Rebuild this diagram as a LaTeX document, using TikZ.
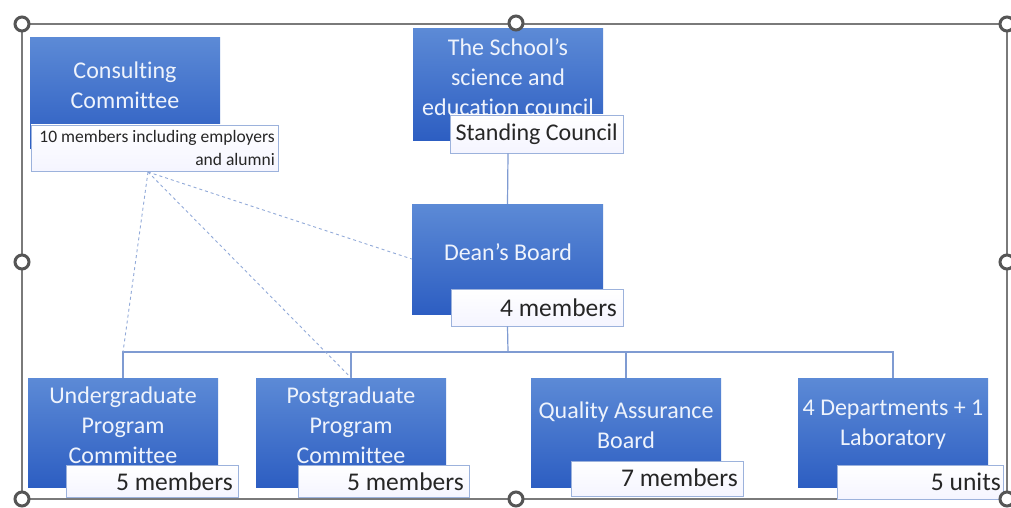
\documentclass[tikz,border=0pt]{standalone}
\usepackage{fontspec}
\setmainfont{Carlito}[Ligatures=NoCommon]
\usetikzlibrary{fit}
\definecolor{bluetop}{HTML}{5C8AD6}
\definecolor{bluebot}{HTML}{2D5EC2}
\definecolor{conn}{HTML}{7F9BD2}
\definecolor{lblborder}{HTML}{9CB2DC}
\definecolor{frame}{HTML}{7A7A7A}
\definecolor{handle}{HTML}{555555}
\definecolor{btext}{HTML}{EEF3FC}
\tikzset{
  bluebox/.style={inner sep=0pt, top color=bluetop, bottom color=bluebot, draw=none},
  bluetext/.style={text=btext, align=center, font=\fontsize{24}{30}\selectfont, inner sep=0pt},
  lblbox/.style={inner sep=0pt, top color=white, bottom color=blue!4, draw=lblborder, line width=0.9pt},
  lbltext/.style={text=black!85, font=\fontsize{24}{30}\selectfont, inner sep=0pt, anchor=east},
  smalltext/.style={text=black!85, align=right, font=\fontsize{17.5}{23}\selectfont, inner sep=0pt, anchor=east},
  conline/.style={draw=conn, line width=1.2pt},
  dashline/.style={draw=conn!85, line width=0.9pt, dash pattern=on 3pt off 3pt},
  framel/.style={draw=frame, line width=1.4pt},
  handlec/.style={circle, draw=handle, fill=white, line width=3pt, minimum size=14pt, inner sep=0pt},
}
\begin{document}
\begin{tikzpicture}[x=1pt,y=-1pt]
\useasboundingbox (0,0) rectangle (1011,508);
\fill[white] (0,0) rectangle (1011,508);
% selection frame
\draw[framel] (22,24) rectangle (1007,499);

% Consulting Committee
\node[bluebox, fit={(30,38) (220,148)}] (cc) {};
\node[bluetext] (cct) at (125,85) {Consulting\\Committee};
\node[lblbox, fit={(31,125) (278,171)}] (ccl) {};
\node[smalltext] (cclt) at (275,148) {10 members including employers\\and alumni};

% School council
\node[bluebox, fit={(413,29) (603,140)}] (sc) {};
\node[bluetext] (sct) at (508,77) {The School’s\\science and\\education council};
\node[lblbox, fit={(450,115) (623,153)}] (scl) {};
\node[lbltext] (sclt) at (618,134) {Standing Council};

% Dean's board
\node[bluebox, fit={(412,204) (603,314)}] (db) {};
\node[bluetext] (dbt) at (508,252) {Dean’s Board};
\node[lblbox, fit={(451,289) (623,326)}] (dbl) {};
\node[lbltext, font=\fontsize{25.5}{30}\selectfont] (dblt) at (617,308) {4 members};

% bottom row
\node[bluebox, fit={(28,378) (218,487)}] (ug) {};
\node[bluetext] (ugt) at (123,425) {Undergraduate\\Program\\Committee};
\node[lblbox, fit={(66,465) (238,497)}] (ugl) {};
\node[lbltext, font=\fontsize{25.5}{30}\selectfont] (uglt) at (233,482) {5 members};

\node[bluebox, fit={(256,378) (446,487)}] (pg) {};
\node[bluetext] (pgt) at (351,425) {Postgraduate\\Program\\Committee};
\node[lblbox, fit={(298,465) (469,497)}] (pgl) {};
\node[lbltext, font=\fontsize{25.5}{30}\selectfont] (pglt) at (464,482) {5 members};

\node[bluebox, fit={(531,378) (721,487)}] (qa) {};
\node[bluetext] (qat) at (626,425) {Quality Assurance\\Board};
\node[lblbox, fit={(571,461) (743,496)}] (qal) {};
\node[lbltext, font=\fontsize{25.5}{30}\selectfont] (qalt) at (738,478) {7 members};

\node[bluebox, fit={(798,378) (988,487)}] (dp) {};
\node[bluetext] (dpt) at (893,425) {4 Departments + 1\\Laboratory};
\node[lblbox, fit={(837,465) (1003,499)}] (dpl) {};
\node[lbltext, font=\fontsize{25.5}{30}\selectfont] (dplt) at (1001,482) {5 units};

% connectors
\coordinate (bar) at (508,352);
\draw[conline] (scl.south -| sc.south) -- (db.north);
\draw[conline] (dbl.south -| db.south) -- (bar);
\draw[conline] (ug.north) -- (ug.north |- bar) -- (dp.north |- bar) -- (dp.north);
\draw[conline] (pg.north |- bar) -- (pg.north);
\draw[conline] (qa.north |- bar) -- (qa.north);

\coordinate (ccd) at (148,172);
\draw[dashline] (ccd) -- (db.west);
\draw[dashline] (ccd) -- (ug.north |- bar);
\draw[dashline] (ccd) -- (pg.north);

% handles
\node[handlec] (h1) at (22,24) {};
\node[handlec] (h2) at (516,23) {};
\node[handlec] (h3) at (1007,24) {};
\node[handlec] (h4) at (22,262) {};
\node[handlec] (h5) at (1007,262) {};
\node[handlec] (h6) at (22,499) {};
\node[handlec] (h7) at (516,499) {};
\node[handlec] (h8) at (1007,499) {};
\end{tikzpicture}
\end{document}
